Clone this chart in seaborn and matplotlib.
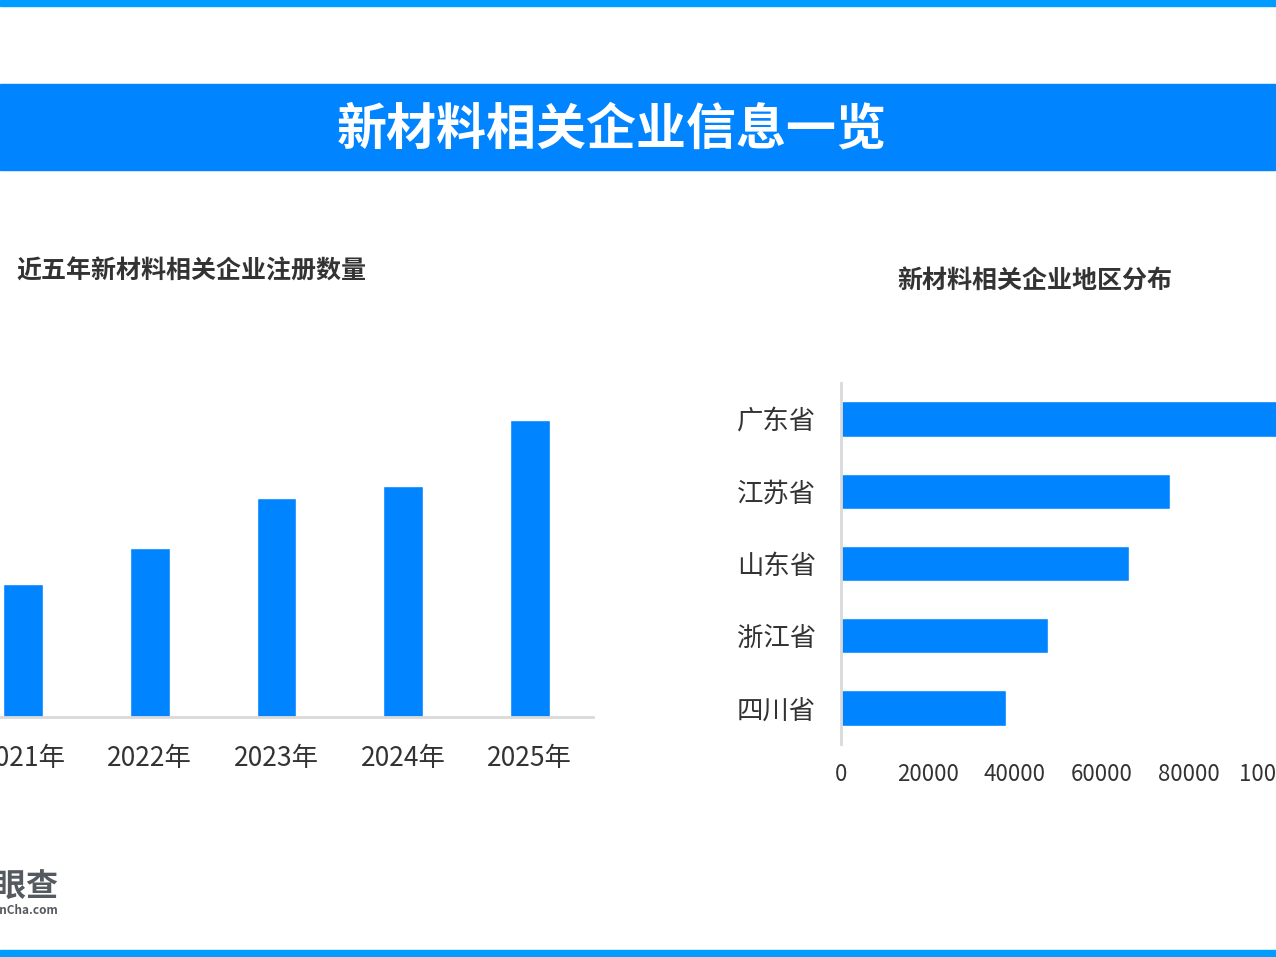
import pandas as pd
import matplotlib
matplotlib.use("Agg")
import matplotlib.pyplot as plt
import seaborn as sns

# data
years = ["2021年", "2022年", "2023年", "2024年", "2025年"]
reg_counts = [13300, 16900, 21900, 23100, 29700]

provinces = ["广东省", "江苏省", "山东省", "浙江省", "四川省"]
prov_counts = [106000, 75600, 66200, 47600, 37900]

blue = "#0084FF"
grey_line = "#D9D9D9"
text_dark = "#333333"

sns.set_theme(style="white")
plt.rcParams["font.family"] = ["Noto Sans CJK SC", "DejaVu Sans"]

fig = plt.figure(figsize=(12.76, 9.57), dpi=100)
fig.patch.set_facecolor("white")

# top / bottom stripes and header band
fig.patches.append(plt.Rectangle((0, 1 - 6 / 957), 1, 6 / 957, transform=fig.transFigure,
                                 color="#009CFF", zorder=0))
fig.patches.append(plt.Rectangle((0, 0), 1, 7 / 957, transform=fig.transFigure,
                                 color="#009CFF", zorder=0))
fig.patches.append(plt.Rectangle((0, 1 - 170 / 957), 1, 86 / 957, transform=fig.transFigure,
                                 color=blue, zorder=0))
fig.text(612 / 1276, 1 - 130 / 957, "新材料相关企业信息一览", color="white",
         fontsize=36, fontweight="bold", ha="center", va="center")

# left: yearly registrations
df_years = pd.DataFrame({"year": years, "count": reg_counts})
ax1 = fig.add_axes([-40 / 1276, 1 - 717 / 957, 633 / 1276, 350 / 957])
sns.barplot(data=df_years, x="year", y="count", color=blue, width=0.315,
            saturation=1, ax=ax1)
ax1.set_xlim(-0.5, 4.5)
ax1.set_ylim(0, 35000)
ax1.set_xlabel("")
ax1.set_ylabel("")
ax1.set_yticks([])
for s in ["top", "right", "left"]:
    ax1.spines[s].set_visible(False)
ax1.spines["bottom"].set_color(grey_line)
ax1.spines["bottom"].set_linewidth(2)
ax1.tick_params(axis="x", length=0, pad=20, labelsize=19, labelcolor=text_dark)

fig.text(16 / 1276, 1 - 272 / 957, "近五年新材料相关企业注册数量", color=text_dark,
         fontsize=18, fontweight="bold", ha="left", va="center")

# right: regional distribution
df_prov = pd.DataFrame({"province": provinces, "count": prov_counts})
ax2 = fig.add_axes([841 / 1276, 1 - 744 / 957, 522 / 1276, 361 / 957])
sns.barplot(data=df_prov, y="province", x="count", color=blue, width=0.49,
            saturation=1, orient="h", ax=ax2)
ax2.set_xlim(0, 120000)
ax2.set_ylim(4.5, -0.5)
ax2.set_xticks([0, 20000, 40000, 60000, 80000, 100000])
ax2.set_xticklabels(["0", "20000", "40000", "60000", "80000", "100000"])
ax2.set_xlabel("")
ax2.set_ylabel("")
for s in ["top", "right", "bottom"]:
    ax2.spines[s].set_visible(False)
ax2.spines["left"].set_color(grey_line)
ax2.spines["left"].set_linewidth(2)
ax2.tick_params(axis="x", length=0, pad=14, labelsize=16, labelcolor=text_dark)
ax2.tick_params(axis="y", length=0, pad=18, labelsize=19, labelcolor=text_dark)

fig.text(1035 / 1276, 1 - 281 / 957, "新材料相关企业地区分布", color=text_dark,
         fontsize=18, fontweight="bold", ha="center", va="center")

# logo, cut by the left edge
fig.text(58 / 1276, 1 - 888 / 957, "天眼查", color="#555A60",
         fontsize=23, fontweight="bold", ha="right", va="center")
fig.text(58 / 1276, 1 - 910 / 957, "TianYanCha.com", color="#555A60",
         fontsize=8.5, fontweight="bold", ha="right", va="center")

fig.savefig("out.png", dpi=100)
